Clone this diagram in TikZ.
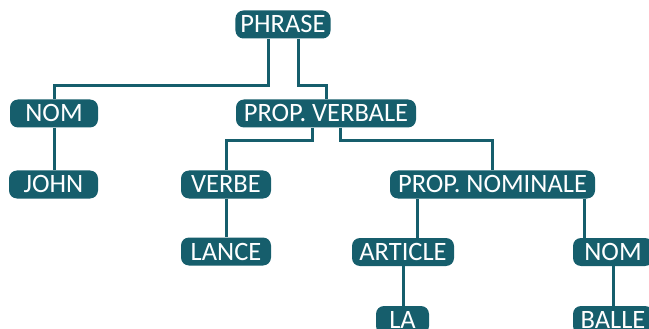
\documentclass[tikz,border=0pt]{standalone}
\usepackage{fontspec}
\setmainfont{Carlito}
\usetikzlibrary{calc}
\definecolor{sarcelle}{RGB}{22,94,108}

\begin{document}
\begin{tikzpicture}[x=1pt, y=1pt,
    cat/.style={fill=sarcelle, text=white, rounded corners=8pt, inner xsep=5pt, inner ysep=5.5pt, text height=17pt, text depth=0pt, font=\fontsize{26.5}{29}\selectfont},
    branche/.style={draw=sarcelle, line width=3pt}
]
\useasboundingbox (0,0) rectangle (649,-329);
\clip (0,0) rectangle (649,-329);

\node[cat, minimum width=95pt] (phrase) at (283,-24.5) {PHRASE};
\node[cat, minimum width=88pt] (nom) at (54,-113.5) {NOM};
\node[cat, minimum width=180pt] (propverb) at (326,-113.5) {PROP. VERBALE};
\node[cat, minimum width=89pt] (john) at (53.5,-184.5) {JOHN};
\node[cat, minimum width=90pt] (verbe) at (226,-184.5) {VERBE};
\node[cat, minimum width=90pt] (lance) at (226,-251.5) {LANCE};
\node[cat, minimum width=205pt] (propnom) at (492.5,-184.5) {PROP. NOMINALE};
\node[cat, minimum width=102pt] (article) at (403,-252) {ARTICLE};
\node[cat, minimum width=80pt] (nomb) at (613,-252) {NOM};
\node[cat, minimum width=53pt] (la) at (402.5,-320) {LA};
\node[cat, minimum width=80pt] (balle) at (613,-320) {BALLE};

% branches
\draw[branche] ([xshift=-15pt]phrase.south) -- ++(0,-46.5) -| (nom.north);
\draw[branche] ([xshift=15pt]phrase.south) -- ++(0,-46.5) -| (propverb.north);
\draw[branche] (nom.south) -- (nom.south |- john.north);
\draw[branche] ([xshift=-14pt]propverb.south) -- ++(0,-13) -| (verbe.north);
\draw[branche] ([xshift=14pt]propverb.south) -- ++(0,-13) -| (propnom.north);
\draw[branche] (verbe.south) -- (verbe.south |- lance.north);
\draw[branche] ([xshift=-75.5pt]propnom.south) coordinate (g) -- (g |- article.north);
\draw[branche] ([xshift=91.5pt]propnom.south) coordinate (d) -- (d |- nomb.north);
\draw[branche] (article.south) -- (article.south |- la.north);
\draw[branche] (nomb.south) -- (nomb.south |- balle.north);
\end{tikzpicture}
\end{document}
